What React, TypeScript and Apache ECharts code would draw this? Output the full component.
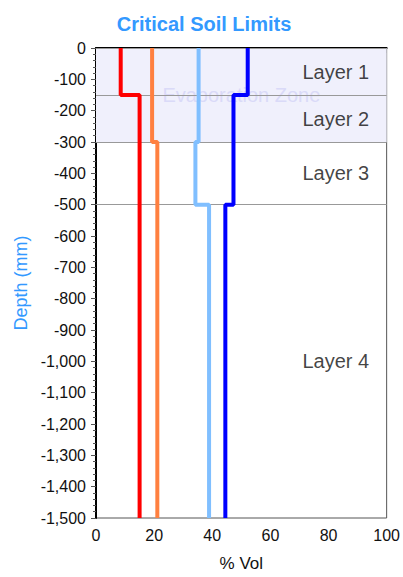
import React, { useEffect, useRef } from "react";
import * as echarts from "echarts";

const layerDepths = [0, -150, -300, -500, -1500];
const layerNames = ["Layer 1", "Layer 2", "Layer 3", "Layer 4"];
const layerLabelX = 82.5;
const evaporationZone = [0, -300];
const seriesNames = ["Limit A", "Limit B", "Limit C", "Limit D"];
const seriesColors = ["#FF0000", "#FF8040", "#80BFFF", "#0000FF"];
const limitA = [8.5, 15.0, 15.0, 15.0];
const limitB = [19.3, 19.3, 21.1, 21.1];
const limitC = [35.3, 35.3, 34.2, 38.9];
const limitD = [52.2, 47.3, 47.3, 44.5];
const xTicks = [0, 20, 40, 60, 80, 100];

const FONT = "'Liberation Sans', Arial, sans-serif";

function stepData(vals: number[]) {
  const out: number[][] = [];
  vals.forEach((v, i) => {
    out.push([v, layerDepths[i]]);
    out.push([v, layerDepths[i + 1]]);
  });
  return out;
}

export default function App() {
  const ref = useRef<HTMLDivElement>(null);
  useEffect(() => {
    if (!ref.current) return;
    const chart = echarts.init(ref.current, null, { renderer: "svg" });
    const all = [limitA, limitB, limitC, limitD];
    const lineSeries = all.map((vals, i) => ({
      name: seriesNames[i],
      type: "line",
      data: stepData(vals),
      symbol: "none",
      z: 5,
      lineStyle: { color: seriesColors[i], width: 4 },
    }));
    const mids = layerNames.map((n, i) => ({
      value: [layerLabelX, (layerDepths[i] + layerDepths[i + 1]) / 2],
      name: n,
    }));
    chart.setOption({
      animation: false,
      backgroundColor: "#ffffff",
      title: {
        text: "Critical Soil Limits",
        left: 199,
        textAlign: "center",
        top: 9,
        textStyle: { color: "#3399FF", fontSize: 20, fontWeight: "bold", fontFamily: FONT },
      },
      grid: {
        left: 96,
        right: 15,
        top: 48,
        bottom: 54,
        show: true,
        borderColor: "#555555",
        borderWidth: 1,
        backgroundColor: "transparent",
      },
      xAxis: {
        type: "value",
        min: xTicks[0],
        max: xTicks[xTicks.length - 1],
        interval: 20,
        name: "% Vol",
        nameLocation: "middle",
        nameGap: 37,
        nameTextStyle: { color: "#111111", fontSize: 17, fontFamily: FONT },
        axisLine: { show: true, lineStyle: { color: "#000", width: 2 } },
        axisTick: { show: true, length: 5, lineStyle: { color: "#555" } },
        minorTick: { show: true, splitNumber: 4, length: 3, lineStyle: { color: "#555" } },
        splitLine: { show: false },
        axisLabel: { color: "#111111", fontSize: 16, margin: 9, fontFamily: FONT },
      },
      yAxis: {
        type: "value",
        min: -1500,
        max: 0,
        interval: 100,
        name: "Depth (mm)",
        nameLocation: "middle",
        nameGap: 66,
        nameTextStyle: { color: "#3399FF", fontSize: 18, fontFamily: FONT },
        axisLine: { show: true, lineStyle: { color: "#000", width: 2 } },
        axisTick: { show: true, length: 5, lineStyle: { color: "#555" } },
        minorTick: { show: true, splitNumber: 5, length: 3, lineStyle: { color: "#555" } },
        splitLine: { show: false },
        axisLabel: {
          color: "#111111",
          fontSize: 16,
          margin: 10,
          fontFamily: FONT,
          formatter: (v: number) => v.toLocaleString("en-US"),
        },
      },
      series: [
        {
          name: "zones",
          type: "line",
          data: [],
          z: 1,
          markArea: {
            silent: true,
            itemStyle: { color: "#F0F0FC" },
            label: {
              show: true,
              position: "inside",
              color: "#DADAF8",
              fontSize: 20,
              fontFamily: FONT,
            },
            data: [
              [
                { name: "Evaporation Zone", coord: [0, evaporationZone[0]] },
                { coord: [100, evaporationZone[1]] },
              ],
            ],
          },
          markLine: {
            silent: true,
            symbol: "none",
            label: { show: false },
            lineStyle: { color: "#999999", width: 1, type: "solid" },
            data: layerDepths.slice(0, 4).map((d) => ({ yAxis: d })),
          },
        },
        ...lineSeries,
        {
          name: "layers",
          type: "scatter",
          symbolSize: 0,
          data: mids,
          z: 6,
          label: {
            show: true,
            position: "inside",
            formatter: (p: any) => p.name,
            color: "#111111",
            fontSize: 20,
            fontFamily: FONT,
          },
        },
      ],
    });
    return () => chart.dispose();
  }, []);
  return (
    <div
      ref={ref}
      style={{ position: "fixed", left: 0, top: 0, width: 403, height: 577 }}
    />
  );
}
